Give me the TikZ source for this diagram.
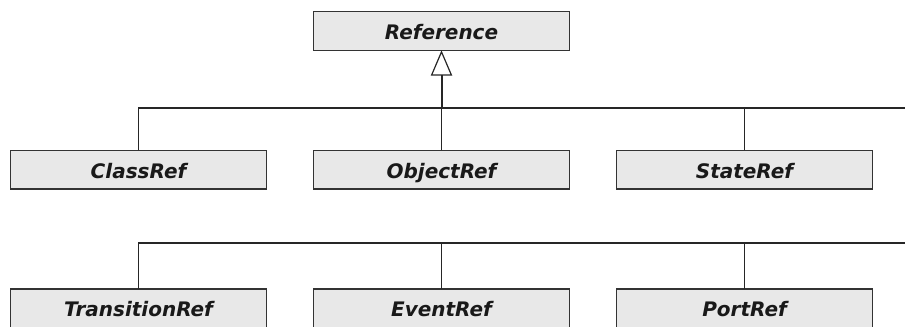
\documentclass[tikz,border=0pt]{standalone}
\usepackage{fontspec}
\setmainfont{DejaVu Sans}
\usetikzlibrary{positioning,arrows.meta}
\definecolor{boxfill}{HTML}{E8E8E8}
\definecolor{boxline}{HTML}{333333}

\begin{document}
\begin{tikzpicture}[
x=0.75pt, y=-0.75pt,
node distance=75pt and 35.25pt,
cls/.style={draw=boxline, line width=1.1pt, fill=boxfill, minimum width=192pt, minimum height=29pt, inner sep=0pt, outer sep=0pt, text height=12.5pt, text depth=0pt, font=\fontsize{15}{18}\selectfont\bfseries\itshape, text=black!90},
link/.style={draw=black!85, line width=0.8pt},
trunk/.style={draw=black!85, line width=1.5pt},
inherit/.style={trunk, -{Triangle[open, length=19pt, width=16pt, line width=0.9pt]}}
]
\clip (0,0) rectangle (905,326);
\node[cls] (ref) at (441.5,31) {Reference};
\node[cls, below=of ref] (objectref) {ObjectRef};
\node[cls, left=of objectref] (classref) {ClassRef};
\node[cls, right=of objectref] (stateref) {StateRef};
\node[cls, below=of classref] (transref) {TransitionRef};
\node[cls, right=of transref] (eventref) {EventRef};
\node[cls, right=of eventref] (portref) {PortRef};
\coordinate (bus1) at (905,108);
\coordinate (bus2) at (905,243);
% first row
\draw[link] (classref.north) |- (objectref.north |- bus1);
\draw[trunk] (objectref.north |- bus1) -- (bus1);
\draw[link] (objectref.north) -- (objectref.north |- bus1);
\draw[link] (stateref.north) -- (stateref.north |- bus1);
\draw[inherit] (objectref.north |- bus1) -- (ref.south);
% second row
\draw[link] (transref.north) |- (eventref.north |- bus2);
\draw[trunk] (eventref.north |- bus2) -- (bus2);
\draw[link] (eventref.north) -- (eventref.north |- bus2);
\draw[link] (portref.north) -- (portref.north |- bus2);
\end{tikzpicture}
\end{document}
